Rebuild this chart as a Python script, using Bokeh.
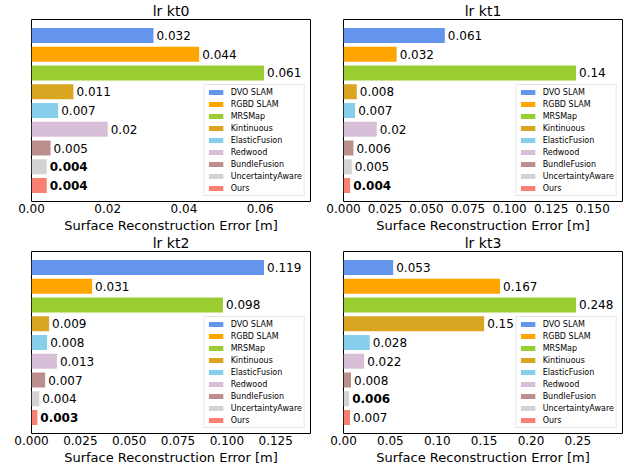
from bokeh.plotting import figure
from bokeh.models import ColumnDataSource, Range1d, FixedTicker, NumeralTickFormatter, Title
from bokeh.layouts import column, row
from bokeh.core.properties import value, field
from bokeh.embed import file_html
from bokeh.resources import INLINE

methods = ["DVO SLAM", "RGBD SLAM", "MRSMap", "Kintinuous", "ElasticFusion",
           "Redwood", "BundleFusion", "UncertaintyAware", "Ours"]
colors = ["#6495ED", "#FFA500", "#9ACD32", "#DAA520", "#87CEEB",
          "#D8BFD8", "#BC8F8F", "#D3D3D3", "#FA8072"]

titles = ["lr kt0", "lr kt1", "lr kt2", "lr kt3"]
errors_kt0 = [0.032, 0.044, 0.061, 0.011, 0.007, 0.02, 0.005, 0.004, 0.004]
errors_kt1 = [0.061, 0.032, 0.14, 0.008, 0.007, 0.02, 0.006, 0.005, 0.004]
errors_kt2 = [0.119, 0.031, 0.098, 0.009, 0.008, 0.013, 0.007, 0.004, 0.003]
errors_kt3 = [0.053, 0.167, 0.248, 0.15, 0.028, 0.022, 0.008, 0.006, 0.007]
bold_kt0 = [False, False, False, False, False, False, False, True, True]
bold_kt1 = [False, False, False, False, False, False, False, False, True]
bold_kt2 = [False, False, False, False, False, False, False, False, True]
bold_kt3 = [False, False, False, False, False, False, False, True, False]
ticks_kt0 = [0.0, 0.02, 0.04, 0.06]
ticks_kt1 = [0.0, 0.025, 0.05, 0.075, 0.1, 0.125, 0.15]
ticks_kt2 = [0.0, 0.025, 0.05, 0.075, 0.1, 0.125]
ticks_kt3 = [0.0, 0.05, 0.1, 0.15, 0.2, 0.25]
tick_formats = ["0.00", "0.000", "0.000", "0.00"]
xlabel = "Surface Reconstruction Error [m]"

FONT = "DejaVu Sans"


def make_panel(title, errs, bolds, ticks, fmt):
    n = len(errs)
    src = ColumnDataSource(dict(
        y=list(range(n)), v=errs, method=methods, color=colors,
        label=[str(e) for e in errs],
        style=["bold" if b else "normal" for b in bolds],
    ))
    p = figure(width=312, height=232, output_backend="svg", toolbar_location=None,
               x_range=Range1d(0, max(errs) * 1.2),
               y_range=Range1d(n - 1 + 0.85, -0.85),
               min_border_left=31, min_border_right=2,
               min_border_top=0, min_border_bottom=0)
    p.hbar(y="y", right="v", left=0, height=0.8, color="color", line_color=None,
           source=src, legend_field="method")
    p.text(x="v", y="y", text="label", source=src, x_offset=3,
           text_baseline="middle", text_align="left", text_font_size="12px",
           text_font=value(FONT), text_font_style=field("style"), text_color="black")
    p.title.text = title
    p.title.align = "center"
    p.title.text_font = FONT
    p.title.text_font_size = "14px"
    p.title.text_font_style = "normal"
    p.title.text_color = "black"
    p.title.standoff = 1
    p.yaxis.visible = False
    p.xgrid.visible = False
    p.ygrid.visible = False
    p.outline_line_color = "black"
    p.outline_line_width = 1
    p.outline_line_alpha = 1
    ax = p.xaxis[0]
    ax.ticker = FixedTicker(ticks=ticks)
    ax.formatter = NumeralTickFormatter(format=fmt)
    ax.axis_line_color = None
    ax.major_tick_line_color = None
    ax.minor_tick_line_color = None
    ax.major_tick_out = 0
    ax.major_tick_in = 0
    ax.minor_tick_out = 0
    ax.minor_tick_in = 0
    ax.major_label_standoff = 2
    ax.major_label_text_font = FONT
    ax.major_label_text_font_size = "12px"
    ax.major_label_text_color = "black"
    ax.axis_label = None
    xt = Title(text=xlabel, align="center", text_font=FONT, text_font_size="13px",
               text_font_style="normal", text_color="black", standoff=0)
    p.add_layout(xt, "below")
    lg = p.legend[0]
    lg.location = "bottom_right"
    lg.margin = 5
    lg.padding = 2
    lg.spacing = 2
    lg.glyph_width = 18
    lg.glyph_height = 6
    lg.label_height = 10
    lg.label_standoff = 6
    lg.label_text_font = FONT
    lg.label_text_font_size = "8px"
    lg.label_text_color = "black"
    lg.border_line_color = "#cccccc"
    lg.border_line_width = 1
    lg.background_fill_alpha = 0.8
    return p


p1 = make_panel(titles[0], errors_kt0, bold_kt0, ticks_kt0, tick_formats[0])
p2 = make_panel(titles[1], errors_kt1, bold_kt1, ticks_kt1, tick_formats[1])
p3 = make_panel(titles[2], errors_kt2, bold_kt2, ticks_kt2, tick_formats[2])
p4 = make_panel(titles[3], errors_kt3, bold_kt3, ticks_kt3, tick_formats[3])

layout = column(row(p1, p2), row(p3, p4))
open("out.html", "w").write(file_html(layout, INLINE))
